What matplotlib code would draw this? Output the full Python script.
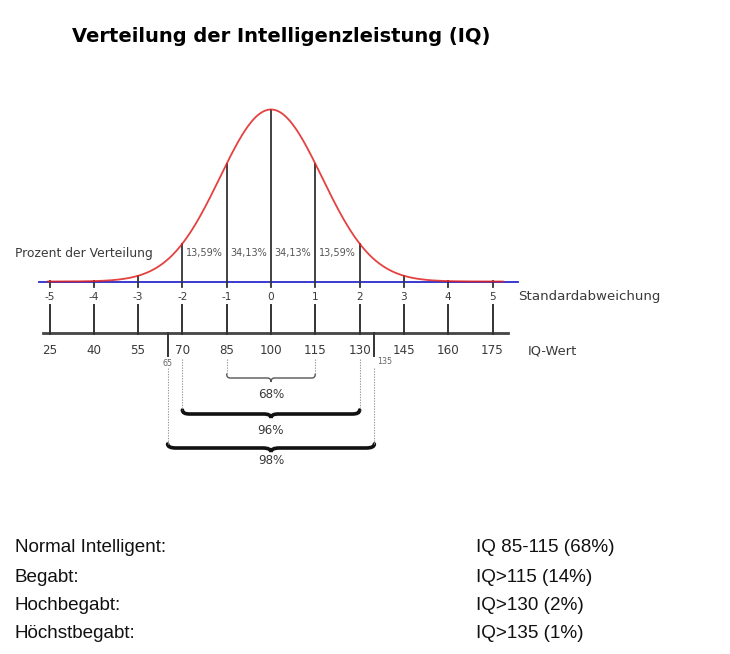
import numpy as np
import matplotlib
matplotlib.use("Agg")
import matplotlib.pyplot as plt
from matplotlib.path import Path
from matplotlib.patches import PathPatch

# ---------------- data ----------------
title = "Verteilung der Intelligenzleistung (IQ)"
sigma_ticks = [-5, -4, -3, -2, -1, 0, 1, 2, 3, 4, 5]
iq_ticks = [25, 40, 55, 70, 85, 100, 115, 130, 145, 160, 175]
extra_iq = [65, 135]
pct_labels = ["13,59%", "34,13%", "34,13%", "13,59%"]
pct_sigma_mid = [-1.5, -0.5, 0.5, 1.5]
range_lo = [85, 70, 65]
range_hi = [115, 130, 135]
range_labels = ["68%", "96%", "98%"]
categories = ["Normal Intelligent:", "Begabt:", "Hochbegabt:", "Höchstbegabt:"]
iq_desc = ["IQ 85-115 (68%)", "IQ>115 (14%)", "IQ>130 (2%)", "IQ>135 (1%)"]
mean_iq = 100
sd_iq = 15

W, H = 730, 654
fig = plt.figure(figsize=(W / 100, H / 100), dpi=100)
fig.patch.set_facecolor("white")

# main axes: x in IQ units, y in pixel rows (top = 0)
px_per_sd = 44.3
x_center_px = 271
iq_left = mean_iq - x_center_px / px_per_sd * sd_iq
iq_right = mean_iq + (W - x_center_px) / px_per_sd * sd_iq
ax = fig.add_axes([0, 0, 1, 1])
ax.set_xlim(iq_left, iq_right)
ax.set_ylim(H, 0)
ax.axis("off")

# overlay axes in pixel coordinates for free text
ov = fig.add_axes([0, 0, 1, 1], facecolor="none")
ov.set_xlim(0, W)
ov.set_ylim(H, 0)
ov.axis("off")

gray_txt = "#3a3a3a"
dfont = "DejaVu Sans"

base_y = 281.5
peak_h = 172
curve_w = 1.15


def curve_y(iq):
    z = (np.asarray(iq) - mean_iq) / sd_iq
    return base_y - peak_h * np.exp(-0.5 * (z / curve_w) ** 2)


# title
ov.text(72, 37, title, fontsize=14.0, fontweight="bold", family="DejaVu Sans",
        ha="left", va="center", color="black")

# baseline (blue)
ax.plot([21.5, 183.5], [base_y, base_y], color="#2a2acc", lw=1.3, zorder=2)
# bell curve
xs = np.linspace(24.5, 178.5, 600)
ax.plot(xs, curve_y(xs), color="#e02020", lw=1.3, alpha=0.85, zorder=3)

# vertical lines up to curve
for s in sigma_ticks:
    iq = mean_iq + s * sd_iq
    top = float(curve_y(iq))
    ax.plot([iq, iq], [base_y + 5, top], color="#333333", lw=1.3, zorder=2)

# percentage labels
ov.text(15, 253, "Prozent der Verteilung", fontsize=8.9, family=dfont,
        color=gray_txt, ha="left", va="center")
for s, lab in zip(pct_sigma_mid, pct_labels):
    ax.text(mean_iq + s * sd_iq, 253, lab, fontsize=7.0, family=dfont,
            color="#555555", ha="center", va="center")

# sigma labels
for s in sigma_ticks:
    ax.text(mean_iq + s * sd_iq, 296.5, str(s), fontsize=7.6, family=dfont,
            color=gray_txt, ha="center", va="center")
ov.text(518, 296.5, "Standardabweichung", fontsize=9.6, family=dfont,
        color=gray_txt, ha="left", va="center")

# lower axis
axis_y = 332.5
ax.plot([22.8, 180.3], [axis_y, axis_y], color="#444444", lw=2.0, zorder=2)
for v in iq_ticks:
    ax.plot([v, v], [305, axis_y + 1.5], color="#333333", lw=1.4)
    ax.text(v, 351, str(v), fontsize=8.6, family=dfont, color=gray_txt,
            ha="center", va="center")
ov.text(528, 351, "IQ-Wert", fontsize=9.4, family=dfont, color=gray_txt,
        ha="left", va="center")

# extra ticks 65 and 135
for v in extra_iq:
    ax.plot([v, v], [axis_y, 355.5], color="#333333", lw=1.4)
ax.text(extra_iq[0], 364, str(extra_iq[0]), fontsize=5.8, family=dfont,
        color="#666666", ha="center", va="center")
ax.text(extra_iq[1] + 0.8, 362, str(extra_iq[1]), fontsize=5.8, family=dfont,
        color="#666666", ha="left", va="center")


def brace(x0, x1, y, h, lw, color):
    xc = (x0 + x1) / 2
    wx = (x1 - x0) * 0.04
    verts = [
        (x0, y - h), (x0, y), (x0 + wx, y),
        (xc - wx, y),
        (xc, y), (xc, y + h),
        (xc, y), (xc + wx, y),
        (x1 - wx, y),
        (x1, y), (x1, y - h),
    ]
    codes = [Path.MOVETO, Path.CURVE3, Path.CURVE3,
             Path.LINETO,
             Path.CURVE3, Path.CURVE3,
             Path.CURVE3, Path.CURVE3,
             Path.LINETO,
             Path.CURVE3, Path.CURVE3]
    ax.add_patch(PathPatch(Path(verts, codes), fill=False, lw=lw,
                           edgecolor=color, capstyle="round"))


dash_top = [359, 359, 368]
brace_y = [378, 414, 448]
label_y = [395, 430, 461]
brace_lw = [1.0, 2.6, 2.6]
brace_col = ["#555555", "#111111", "#111111"]
for lo, hi, lab, dt, by, ly, lw, col in zip(range_lo, range_hi, range_labels,
                                            dash_top, brace_y, label_y,
                                            brace_lw, brace_col):
    for v in (lo, hi):
        ax.plot([v, v], [dt, by - 4], color="#9a9a9a", lw=0.8,
                linestyle=(0, (1.2, 1.2)))
    brace(lo, hi, by, 4, lw, col)
    ax.text((lo + hi) / 2, ly, lab, fontsize=8.6, family=dfont,
            color=gray_txt, ha="center", va="center")

# table below
row_y = [548, 577, 605, 633]
for y, c, d in zip(row_y, categories, iq_desc):
    ov.text(15, y, c, fontsize=13.6, family="Liberation Sans", color="#111111",
            ha="left", va="center")
    ov.text(476, y, d, fontsize=13.6, family="Liberation Sans", color="#111111",
            ha="left", va="center")

fig.savefig("out.png", dpi=100, facecolor="white")
